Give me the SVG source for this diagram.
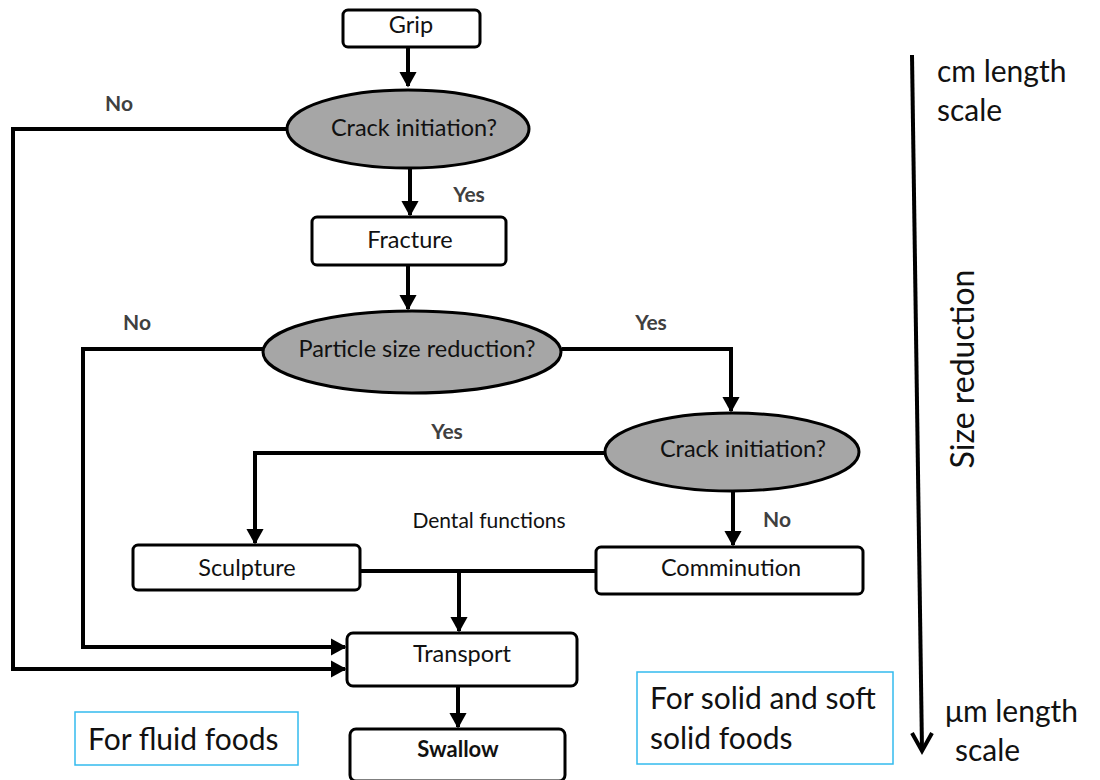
<svg xmlns="http://www.w3.org/2000/svg" width="1100" height="780" viewBox="0 0 1100 780">
<defs>
<marker id="ah" markerWidth="4" markerHeight="4.4" refX="3.6" refY="2.2" orient="auto" markerUnits="strokeWidth">
<path d="M0,0 L4,2.2 L0,4.4 Z" fill="#000"/>
</marker>
<style>
.box{fill:#fff;stroke:#000;stroke-width:3}
.ell{fill:#a6a6a6;stroke:#000;stroke-width:3}
.ln{fill:none;stroke:#000;stroke-width:4;stroke-linejoin:miter}
.t{font-family:Lato,"Open Sans","Liberation Sans",sans-serif;font-size:23.5px;fill:#111;text-anchor:middle}
.yn{font-family:Lato,"Open Sans","Liberation Sans",sans-serif;font-size:21px;font-weight:bold;fill:#404040;text-anchor:middle}
.big{font-family:Lato,"Open Sans","Liberation Sans",sans-serif;font-size:30px;fill:#111}
.note{fill:#fff;stroke:#33bbee;stroke-width:1.5}
</style>
</defs>
<g id="connectors">
<path class="ln" d="M408,48 V86" marker-end="url(#ah)"/>
<path class="ln" d="M410,168 V215" marker-end="url(#ah)"/>
<path class="ln" d="M408,265 V309" marker-end="url(#ah)"/>
<path class="ln" d="M287,129 H13 V669 H345" marker-end="url(#ah)"/>
<path class="ln" d="M263,349 H83 V647 H345" marker-end="url(#ah)"/>
<path class="ln" d="M562,349 H731 V411" marker-end="url(#ah)"/>
<path class="ln" d="M605,453 H255 V543" marker-end="url(#ah)"/>
<path class="ln" d="M733,491 V545" marker-end="url(#ah)"/>
<path class="ln" d="M360,571 H596"/>
<path class="ln" d="M459,571 V631" marker-end="url(#ah)"/>
<path class="ln" d="M458,686 V727" marker-end="url(#ah)"/>
<path class="ln" d="M912,55 L922,750"/>
<path d="M912,733 L922,751 L932,733" fill="none" stroke="#000" stroke-width="4"/>
</g>
<g id="grip"><rect class="box" x="343" y="10" width="137" height="37" rx="5"/><text class="t" x="411" y="33">Grip</text></g>
<g id="crack1"><ellipse class="ell" cx="408" cy="129" rx="121" ry="39"/><text class="t" x="414" y="136">Crack initiation?</text></g>
<g id="fracture"><rect class="box" x="312" y="217" width="194" height="48" rx="5"/><text class="t" x="410" y="248">Fracture</text></g>
<g id="particle"><ellipse class="ell" cx="412" cy="352" rx="149" ry="41"/><text class="t" x="417" y="357">Particle size reduction?</text></g>
<g id="crack2"><ellipse class="ell" cx="732" cy="452" rx="127" ry="39"/><text class="t" x="743" y="457">Crack initiation?</text></g>
<g id="sculpture"><rect class="box" x="133" y="545" width="227" height="45" rx="5"/><text class="t" x="247" y="576">Sculpture</text></g>
<g id="comminution"><rect class="box" x="596" y="547" width="267" height="47" rx="5"/><text class="t" x="731" y="576">Comminution</text></g>
<g id="transport"><rect class="box" x="347" y="633" width="230" height="53" rx="6"/><text class="t" x="462" y="662">Transport</text></g>
<g id="swallow"><rect class="box" x="350" y="729" width="215" height="52" rx="6"/><text class="t" x="458" y="757" style="font-weight:bold;font-size:22px">Swallow</text></g>
<g id="labels">
<text class="yn" x="119" y="111">No</text>
<text class="yn" x="469" y="202">Yes</text>
<text class="yn" x="137" y="330">No</text>
<text class="yn" x="651" y="330">Yes</text>
<text class="yn" x="447" y="439">Yes</text>
<text class="yn" x="777" y="527">No</text>
<text class="t" x="489" y="528" style="font-size:21px">Dental functions</text>
</g>
<g id="fluid"><rect class="note" x="75" y="712" width="223" height="53"/><text class="big" x="88" y="750">For fluid foods</text></g>
<g id="solid"><rect class="note" x="637" y="672" width="256" height="92"/><text class="big" x="650" y="709">For solid and soft</text><text class="big" x="650" y="749">solid foods</text></g>
<g id="scale">
<text class="big" x="937" y="82">cm length</text>
<text class="big" x="937" y="121">scale</text>
<text class="big" x="0" y="0" transform="translate(974,369) rotate(-90)" text-anchor="middle" style="font-size:32px">Size reduction</text>
<text class="big" x="945" y="722">μm length</text>
<text class="big" x="955" y="761">scale</text>
</g>
</svg>
